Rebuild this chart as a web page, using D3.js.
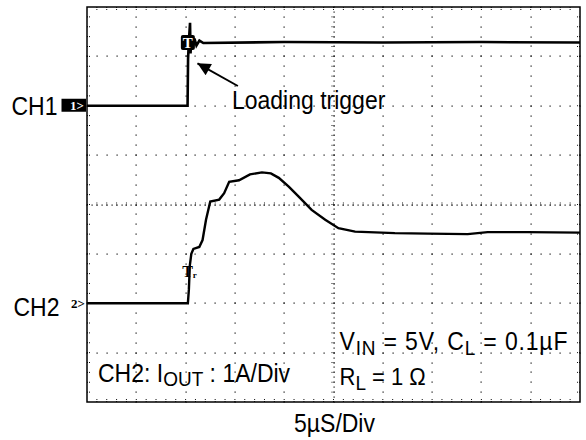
<!DOCTYPE html>
<html><head><meta charset="utf-8">
<script src="https://cdn.jsdelivr.net/npm/d3@7"></script>
<style>
html,body{margin:0;padding:0;background:#fff;}
svg{display:block;}
text{font-family:"Liberation Sans",Arial,Helvetica,sans-serif;}
</style></head>
<body>
<svg id="c" width="586" height="440"></svg>
<script>
// ---- data (time in µs, amplitude in divisions from bottom of screen) ----
const ch1Time = [0, 10.2, 10.25, 10.33, 10.45, 10.5, 10.6, 10.75, 10.9, 11.1, 11.4, 11.8, 20, 30, 40, 50];
const ch1Div  = [6.0, 6.0, 6.95, 7.3, 7.68, 7.06, 7.4, 7.2, 7.36, 7.22, 7.32, 7.27, 7.29, 7.28, 7.29, 7.28];
const ch2Time = [0, 10.23, 10.33, 10.43, 10.58, 10.79, 11.39, 11.72, 12.07, 12.5, 13.41, 13.91, 14.42, 15.42, 16.53,
                 17.74, 18.65, 19.45, 20.46, 21.47, 22.78, 24.16, 25.5, 27.19, 31.22, 34.58, 38.61, 40.63, 44.66, 50];
const ch2Div  = [2.0, 2.0, 2.27, 2.77, 3.0, 3.1, 3.14, 3.28, 3.69, 4.06, 4.1, 4.23, 4.46, 4.49, 4.61,
                 4.65, 4.63, 4.54, 4.36, 4.16, 3.89, 3.69, 3.52, 3.45, 3.42, 3.41, 3.4, 3.44, 3.44, 3.43];
const xDivs = 10, yDivs = 8, usPerDiv = 5;
const ch1Level = 6, ch2Level = 2;
const trigger = {t: 10.23, v: 7.28};
const riseMark = {t: 9.75, v: 2.53};
const arrowTip = {t: 11.2, v: 6.86}, arrowTail = {t: 15.3, v: 6.4};
const texts = {
  load: "Loading trigger", ch1: "CH1", ch2: "CH2", xdiv: "5µS/Div"
};

const svg = d3.select("#c");
const L = 87, R = 580, T = 7, B = 402;
const x = d3.scaleLinear().domain([0, xDivs * usPerDiv]).range([L, R]);
const y = d3.scaleLinear().domain([0, yDivs]).range([B, T]);
const xd = d => x(d * usPerDiv);
const SY = 1.1; // vertical stretch of the scope's lettering

// ---- grid ----
const g = svg.append("g");
const dots = [];
for (let i = 1; i < xDivs; i++) {
  if (i === 5) continue;
  for (let k = 0; k <= yDivs * 5; k++) dots.push([xd(i), y(k / 5)]);
}
for (let j = 1; j < yDivs; j++) {
  if (j === 4) continue;
  for (let k = 0; k <= xDivs * 5; k++) dots.push([xd(k / 5), y(j)]);
}
for (let k = 0; k <= yDivs * 10; k++) dots.push([xd(5), y(k / 10)]);
for (let k = 0; k <= xDivs * 10; k++) dots.push([xd(k / 10), y(4)]);
g.selectAll("rect.d").data(dots).join("rect").attr("class", "d")
  .attr("x", d => Math.round(d[0]) - 0.5).attr("y", d => Math.round(d[1]) - 0.5)
  .attr("width", 1.2).attr("height", 1.2).attr("fill", "#111");
const ticks = [];
for (let k = 1; k < xDivs * 5; k++) {
  ticks.push([xd(k / 5), y(4) - 2, xd(k / 5), y(4) + 2]);
  ticks.push([xd(k / 5), B - 3, xd(k / 5), B]);
  ticks.push([xd(k / 5), T, xd(k / 5), T + 3]);
}
for (let k = 1; k < yDivs * 5; k++) {
  ticks.push([xd(5) - 2, y(k / 5), xd(5) + 2, y(k / 5)]);
  ticks.push([L, y(k / 5), L + 3, y(k / 5)]);
  ticks.push([R - 3, y(k / 5), R, y(k / 5)]);
}
g.selectAll("line.t").data(ticks).join("line").attr("class", "t")
  .attr("x1", d => d[0]).attr("y1", d => d[1]).attr("x2", d => d[2]).attr("y2", d => d[3])
  .attr("stroke", "#111").attr("stroke-width", 1).attr("stroke-dasharray", "1,1");

svg.append("rect").attr("x", L).attr("y", T).attr("width", R - L).attr("height", B - T)
  .attr("fill", "none").attr("stroke", "#000").attr("stroke-width", 1.5);

// ---- traces ----
const line = d3.line().x(d => x(d[0])).y(d => y(d[1]));
svg.append("path").datum(ch1Time.map((t, i) => [t, ch1Div[i]]))
  .attr("d", line).attr("fill", "none").attr("stroke", "#000").attr("stroke-width", 2.6);
svg.append("path").datum(ch2Time.map((t, i) => [t, ch2Div[i]]))
  .attr("d", line).attr("fill", "none").attr("stroke", "#000").attr("stroke-width", 2.4);

// ---- trigger marker ----
svg.append("rect").attr("x", x(trigger.t) - 7).attr("y", y(trigger.v) - 7.5)
  .attr("width", 14).attr("height", 15).attr("rx", 2).attr("fill", "#000");
svg.append("text").attr("x", x(trigger.t)).attr("y", y(trigger.v) + 5.5).attr("text-anchor", "middle")
  .attr("fill", "#fff").style("font-family", "Liberation Serif,serif").style("font-weight", "bold")
  .style("font-size", "15px").text("T");
// rise marker Tr
const tr = svg.append("text").attr("x", x(riseMark.t) - 1).attr("y", y(riseMark.v))
  .style("font-family", "Liberation Serif,serif").style("font-weight", "bold").style("font-size", "16px");
tr.append("tspan").text("T");
tr.append("tspan").attr("dy", 1).style("font-size", "9px").text("r");

// ---- channel markers ----
svg.append("rect").attr("x", 61.5).attr("y", y(ch1Level) - 7).attr("width", 24.5).attr("height", 13).attr("fill", "#000");
svg.append("text").attr("x", 70).attr("y", y(ch1Level) + 4.5).attr("fill", "#fff")
  .style("font-family", "Liberation Serif,serif").style("font-weight", "bold").style("font-size", "13px").text("1>");
svg.append("text").attr("x", 71).attr("y", y(ch2Level) + 5).attr("fill", "#000")
  .style("font-family", "Liberation Serif,serif").style("font-weight", "bold").style("font-size", "13px").text("2>");

function label(px, py, size, anchor) {
  return svg.append("g").attr("transform", `translate(${px},${py}) scale(1,${SY})`)
    .append("text").attr("text-anchor", anchor || "start").style("font-size", size + "px");
}
label(11.5, y(ch1Level) + 9.5, 23).text(texts.ch1);
label(13.5, y(ch2Level) + 12.5, 23).text(texts.ch2);

// ---- annotation ----
svg.append("defs").append("marker").attr("id", "ah").attr("viewBox", "0 0 10 10")
  .attr("refX", 10).attr("refY", 5).attr("markerWidth", 17).attr("markerHeight", 13)
  .attr("markerUnits", "userSpaceOnUse").attr("orient", "auto")
  .append("path").attr("d", "M0,0 L10,5 L0,10 z").attr("fill", "#000");
svg.append("line").attr("x1", x(arrowTail.t)).attr("y1", y(arrowTail.v))
  .attr("x2", x(arrowTip.t)).attr("y2", y(arrowTip.v)).attr("stroke", "#000").attr("stroke-width", 2)
  .attr("marker-end", "url(#ah)");
label(232, 108.5, 23).text(texts.load);

// ---- condition texts ----
const t1 = label(98, 381.5, 23);
t1.append("tspan").text("CH2: I");
t1.append("tspan").attr("dy", 4.5).style("font-size", "19px").text("OUT");
t1.append("tspan").attr("dy", -4.5).text(" : 1A/Div");
const t2 = label(339.5, 350, 23).attr("textLength", 228).attr("lengthAdjust", "spacing");
t2.append("tspan").text("V");
t2.append("tspan").attr("dy", 4.5).style("font-size", "19px").text("IN");
t2.append("tspan").attr("dy", -4.5).text(" = 5V, C");
t2.append("tspan").attr("dy", 4.5).style("font-size", "19px").text("L");
t2.append("tspan").attr("dy", -4.5).text(" = 0.1µF");
const t3 = label(339.5, 385, 22);
t3.append("tspan").text("R");
t3.append("tspan").attr("dy", 4.5).style("font-size", "19px").text("L");
t3.append("tspan").attr("dy", -4.5).text(" = 1 Ω");
label((L + R) / 2 + 1, 431.5, 23, "middle").text(texts.xdiv);
</script>
</body></html>
